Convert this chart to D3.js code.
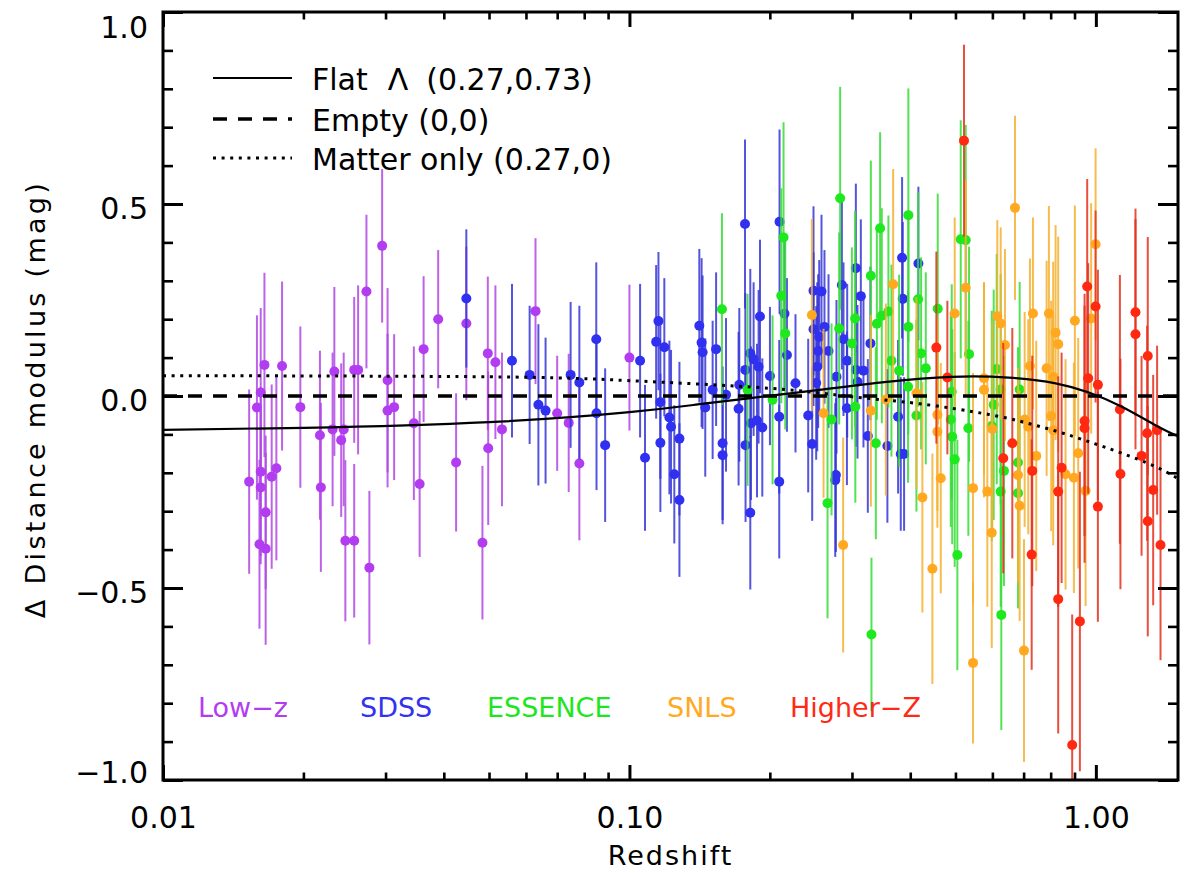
<!DOCTYPE html>
<html>
<head>
<meta charset="utf-8">
<script src="https://cdn.jsdelivr.net/npm/d3@7"></script>
<style>
  html, body { margin: 0; padding: 0; background: #fff; }
  svg { display: block; }
  text { font-family: "DejaVu Sans", "Liberation Sans", sans-serif; fill: #000; }
</style>
</head>
<body>
<svg id="chart" width="1186" height="873"></svg>
<script>
// ---------------- DATA ----------------
const xTickValues = [0.01, 0.1, 1];
const xTickLabels = ["0.01", "0.10", "1.00"];
const xMinorTicks = [0.02,0.03,0.04,0.05,0.06,0.07,0.08,0.09,0.2,0.3,0.4,0.5,0.6,0.7,0.8,0.9];
const yTickValues = [-1, -0.5, 0, 0.5, 1];
const yTickLabels = ["\u22121.0", "\u22120.5", "0.0", "0.5", "1.0"];
const yMinorTicks = [-0.9,-0.8,-0.7,-0.6,-0.4,-0.3,-0.2,-0.1,0.1,0.2,0.3,0.4,0.6,0.7,0.8,0.9];

const xTitle = "Redshift";
const yTitle = "\u0394 Distance modulus (mag)";
const groupNames = ["Low\u2212z", "SDSS", "ESSENCE", "SNLS", "Higher\u2212Z"];
const legendLabels = [["Flat", "\u039b", "(0.27,0.73)"], ["Empty (0,0)"], ["Matter only (0.27,0)"]];

// [redshift, delta distance modulus, error]
const lowZ = [
[0.0153,-0.223,0.24],[0.0159,-0.030,0.24],[0.0162,0.009,0.22],[0.0165,0.081,0.24],[0.0162,-0.197,0.22],
[0.0162,-0.238,0.20],[0.0166,-0.303,0.20],[0.0161,-0.386,0.22],[0.0166,-0.398,0.25],[0.0171,-0.210,0.24],
[0.0175,-0.188,0.24],[0.0180,0.078,0.22],[0.0197,-0.029,0.21],[0.0217,-0.102,0.22],[0.0218,-0.238,0.22],
[0.0231,-0.087,0.20],[0.0233,0.064,0.22],[0.0241,-0.115,0.20],[0.0244,-0.087,0.20],[0.0246,-0.377,0.21],
[0.0257,-0.377,0.20],[0.0257,0.068,0.19],[0.0262,0.068,0.22],[0.0273,0.272,0.20],[0.0277,-0.447,0.20],
[0.0295,0.391,0.20],[0.0303,0.041,0.24],[0.0303,-0.038,0.20],[0.0313,-0.029,0.19],[0.0345,-0.071,0.20],
[0.0355,-0.229,0.19],[0.0362,0.122,0.19],[0.0389,0.200,0.18],[0.0425,-0.173,0.18],[0.0447,0.189,0.20],
[0.0484,-0.382,0.20],[0.0497,0.111,0.20],[0.0516,0.088,0.20],[0.0498,-0.136,0.20],[0.0533,-0.087,0.20],
[0.0629,0.221,0.19],[0.0700,-0.045,0.15],[0.0741,-0.070,0.18],[0.0781,-0.176,0.20],[0.1000,0.100,0.19]
];
const sdss = [
[0.0447,0.254,0.18],[0.0560,0.092,0.20],[0.0611,0.055,0.18],[0.0638,-0.023,0.21],[0.0661,-0.038,0.19],
[0.0748,0.055,0.19],[0.0781,0.035,0.20],[0.0849,0.148,0.20],[0.0850,-0.045,0.20],[0.0887,-0.128,0.20],
[0.1054,0.092,0.20],[0.1080,-0.161,0.19],[0.1154,0.195,0.18],[0.1141,0.141,0.20],[0.1188,0.127,0.18],
[0.1165,-0.016,0.20],[0.1218,-0.056,0.20],[0.1228,-0.080,0.20],[0.1165,-0.122,0.18],[0.1248,-0.204,0.18],
[0.1280,-0.111,0.20],[0.1280,-0.271,0.20],[0.1412,0.183,0.20],[0.1428,0.139,0.22],[0.1435,0.114,0.20],
[0.1534,0.122,0.20],[0.1508,0.016,0.18],[0.1454,-0.030,0.18],[0.1584,-0.123,0.20],[0.1584,-0.154,0.18],
[0.1611,0.003,0.20],[0.1714,-0.033,0.20],[0.1769,0.448,0.22],[0.1772,0.068,0.20],[0.1774,-0.128,0.20],
[0.2098,0.454,0.24],[0.1905,0.207,0.20],[0.1816,0.111,0.22],[0.1846,0.096,0.20],[0.1892,0.076,0.20],
[0.2001,0.052,0.18],[0.1720,0.029,0.20],[0.1822,-0.071,0.20],[0.1877,-0.064,0.20],[0.1927,-0.082,0.18],
[0.2095,-0.054,0.20],[0.2095,-0.223,0.20],[0.1816,-0.304,0.20],[0.2150,0.214,0.20],[0.2176,0.107,0.20],
[0.2270,0.033,0.18],[0.2417,-0.051,0.20],[0.2465,-0.125,0.20],[0.2481,0.274,0.22],[0.2481,0.174,0.20],
[0.2581,0.272,0.20],[0.2619,0.180,0.20],[0.2552,0.154,0.20],[0.2539,0.117,0.20],[0.2527,0.076,0.22],
[0.2514,0.034,0.20],[0.2672,0.117,0.20],[0.2779,0.050,0.20],[0.2771,-0.206,0.20],[0.2762,-0.219,0.20],
[0.2854,0.289,0.22],[0.2877,0.148,0.20],[0.2926,-0.032,0.20],[0.3058,0.333,0.22],[0.3083,0.037,0.20],
[0.3134,0.260,0.20],[0.3175,0.066,0.20],[0.3244,-0.104,0.20],[0.3286,0.137,0.20],[0.3573,-0.130,0.20],
[0.3767,-0.054,0.20],[0.3842,0.360,0.21],[0.3855,0.253,0.20],[0.3817,-0.151,0.20],[0.3880,-0.151,0.20],
[0.4164,0.345,0.20],[0.2930,0.092,0.20],[0.3058,0.068,0.20]
];
const essence = [
[0.1579,0.226,0.25],[0.1792,0.016,0.25],[0.2140,0.413,0.30],[0.2116,0.261,0.28],[0.2158,0.163,0.25],
[0.2027,-0.010,0.22],[0.2659,-0.279,0.30],[0.2712,-0.061,0.25],[0.2830,0.515,0.29],[0.2816,0.176,0.25],
[0.2999,0.137,0.25],[0.3047,0.202,0.28],[0.3050,-0.028,0.25],[0.3293,0.313,0.30],[0.3392,0.188,0.25],
[0.3476,0.209,0.28],[0.3591,0.220,0.25],[0.3447,0.437,0.25],[0.3375,-0.123,0.25],[0.3645,0.092,0.25],
[0.3786,0.066,0.25],[0.3957,0.024,0.25],[0.3963,0.471,0.33],[0.3963,0.180,0.28],[0.4158,0.252,0.28],
[0.4220,0.111,0.25],[0.4319,0.072,0.25],[0.4124,-0.051,0.25],[0.4581,0.227,0.30],[0.4909,0.011,0.28],
[0.4885,-0.061,0.28],[0.4921,-0.106,0.28],[0.4982,-0.165,0.28],[0.5132,0.408,0.31],[0.5260,0.406,0.30],
[0.5347,0.109,0.28],[0.5329,-0.084,0.28],[0.6130,0.070,0.30],[0.6251,0.017,0.30],[0.5981,-0.078,0.30],
[0.6353,-0.195,0.30],[0.6251,-0.249,0.30],[0.6864,0.017,0.28],[0.6808,-0.173,0.30],[0.6808,-0.253,0.30],
[0.3303,-0.621,0.20],[0.6270,-0.570,0.30],[0.5047,-0.414,0.30],[0.6039,-0.023,0.30]
];
const snls = [
[0.2461,0.211,0.25],[0.2607,-0.045,0.22],[0.3676,0.291,0.30],[0.3293,-0.038,0.25],[0.3546,-0.009,0.25],
[0.4124,0.007,0.25],[0.4247,-0.264,0.30],[0.4573,-0.049,0.25],[0.4573,-0.093,0.25],[0.4650,-0.214,0.30],
[0.4982,0.215,0.25],[0.5260,0.282,0.28],[0.5453,-0.240,0.30],[0.5757,0.046,0.25],[0.5757,0.016,0.28],
[0.5852,-0.249,0.30],[0.6148,0.208,0.25],[0.6251,0.189,0.25],[0.6384,0.133,0.25],[0.5981,-0.356,0.30],
[0.6708,0.490,0.24],[0.9986,0.395,0.25],[0.7330,0.215,0.25],[0.7932,0.215,0.28],[0.9016,0.196,0.30],
[0.8197,0.165,0.28],[0.8303,0.135,0.28],[0.7223,0.078,0.28],[0.7842,0.072,0.28],[0.8101,0.050,0.30],
[0.9770,0.202,0.30],[0.8022,-0.052,0.30],[0.7162,-0.080,0.28],[0.8101,-0.089,0.30],[0.7450,-0.156,0.30],
[0.9165,-0.149,0.30],[0.8610,-0.204,0.30],[0.8972,-0.213,0.30],[0.9505,-0.247,0.30],[0.6864,-0.286,0.30],
[0.6808,-0.206,0.28],[0.7036,-0.061,0.28],[0.2872,-0.388,0.28],[0.4462,-0.450,0.30],[0.7013,-0.663,0.29],
[0.5453,-0.695,0.21],[0.5998,-0.086,0.28]
];
const higherZ = [
[0.5215,0.665,0.25],[0.9581,0.285,0.28],[0.9986,0.233,0.25],[1.216,0.218,0.27],[1.216,0.161,0.30],
[1.292,0.104,0.31],[0.9627,0.046,0.30],[1.010,0.029,0.30],[1.126,-0.035,0.35],[0.9458,-0.065,0.30],
[0.9458,-0.084,0.35],[1.288,-0.097,0.28],[1.353,-0.089,0.22],[0.6620,-0.123,0.30],[0.6331,-0.162,0.30],
[1.253,-0.156,0.26],[0.8444,-0.187,0.30],[0.7305,-0.195,0.30],[1.129,-0.203,0.30],[0.8303,-0.249,0.30],
[1.327,-0.245,0.30],[1.010,-0.288,0.30],[1.292,-0.326,0.30],[0.4550,0.126,0.25],[0.4804,0.048,0.20],
[1.376,-0.388,0.30],[0.7284,-0.413,0.30],[0.8303,-0.529,0.35],[0.9241,-0.587,0.39],[0.8897,-0.909,0.34]
];

// model curves: [redshift, delta mu]
const flatLambda = [[0.01,-0.088],[0.02,-0.083],[0.05,-0.068],[0.1,-0.042],[0.14,-0.022],[0.18,-0.006],
  [0.255,0.016],[0.356,0.037],[0.49,0.050],[0.65,0.048],[0.82,0.033],[0.966,0.009],[1.137,-0.028],[1.342,-0.076],[1.5,-0.105]];
const emptyModel = [[0.01,0],[1.5,0]];
const matterOnly = [[0.01,0.053],[0.05,0.050],[0.1,0.040],[0.2,0.020],[0.3,-0.002],[0.418,-0.020],[0.589,-0.048],
  [0.694,-0.067],[0.82,-0.091],[0.966,-0.119],[1.137,-0.149],[1.342,-0.184],[1.5,-0.215]];

// ---------------- STYLE / LAYOUT ----------------
const groups = [
  {name: groupNames[0], data: lowZ,    dot: "#b23cf0", bar: "#b048e4", label: "#b43cf0", lx: 198},
  {name: groupNames[1], data: sdss,    dot: "#3030f0", bar: "#3636d6", label: "#3232f0", lx: 360},
  {name: groupNames[2], data: essence, dot: "#1ee81e", bar: "#36dc36", label: "#1ee61e", lx: 487},
  {name: groupNames[3], data: snls,    dot: "#ffa820", bar: "#f4b030", label: "#ffaa22", lx: 667},
  {name: groupNames[4], data: higherZ, dot: "#ff2810", bar: "#e4301c", label: "#ff2a14", lx: 790}
];

const svg = d3.select("#chart");
const L = 163, R = 1178, T = 12, B = 780;
const x = d3.scaleLog().domain([0.01, 1.5]).range([L, R]);
const y = d3.scaleLinear().domain([-1, 1]).range([B, T]);

svg.append("defs").append("clipPath").attr("id", "plotClip")
  .append("rect").attr("x", L).attr("y", T).attr("width", R - L).attr("height", B - T);

// ---------------- DATA MARKS ----------------
const plot = svg.append("g").attr("clip-path", "url(#plotClip)");
groups.forEach(g => {
  const gg = plot.append("g");
  gg.selectAll("line.err").data(g.data).join("line")
    .attr("class", "err")
    .attr("x1", d => x(d[0])).attr("x2", d => x(d[0]))
    .attr("y1", d => y(d[1] - d[2])).attr("y2", d => y(d[1] + d[2]))
    .attr("stroke", g.bar).attr("stroke-width", 2).attr("stroke-opacity", 0.85);
  gg.selectAll("circle").data(g.data).join("circle")
    .attr("cx", d => x(d[0])).attr("cy", d => y(d[1])).attr("r", 5)
    .attr("fill", g.dot);
});

// ---------------- MODEL CURVES ----------------
const line = d3.line().x(d => x(d[0])).y(d => y(d[1])).curve(d3.curveNatural);
const curves = svg.append("g").attr("clip-path", "url(#plotClip)").attr("fill", "none").attr("stroke", "#000");
curves.append("path").datum(flatLambda).attr("d", line).attr("stroke-width", 2.2);
curves.append("path").datum(emptyModel).attr("d", d3.line().x(d => x(d[0])).y(d => y(d[1])))
  .attr("stroke-width", 3.6).attr("stroke-dasharray", "14,11");
curves.append("path").datum(matterOnly).attr("d", line)
  .attr("stroke-width", 3).attr("stroke-dasharray", "3,5.6");

// ---------------- AXES ----------------
function styleAxis(sel, sw) {
  sel.select(".domain").remove();
  sel.selectAll(".tick line").attr("stroke", "#000").attr("stroke-width", sw);
  sel.selectAll(".tick text").attr("font-size", 30).attr("font-family", "DejaVu Sans, sans-serif").attr("fill", "#000");
}
// bottom
svg.append("g").attr("transform", `translate(0,${B})`)
  .call(d3.axisBottom(x).tickValues(xTickValues).tickFormat((d, i) => xTickLabels[i]).tickSize(-15).tickSizeOuter(0).tickPadding(27))
  .call(s => styleAxis(s, 3));
svg.append("g").attr("transform", `translate(0,${B})`)
  .call(d3.axisBottom(x).tickValues(xMinorTicks).tickFormat("").tickSize(-7.5).tickSizeOuter(0))
  .call(s => styleAxis(s, 2.6));
// top
svg.append("g").attr("transform", `translate(0,${T})`)
  .call(d3.axisTop(x).tickValues(xTickValues).tickFormat("").tickSize(-15).tickSizeOuter(0))
  .call(s => styleAxis(s, 3));
svg.append("g").attr("transform", `translate(0,${T})`)
  .call(d3.axisTop(x).tickValues(xMinorTicks).tickFormat("").tickSize(-7.5).tickSizeOuter(0))
  .call(s => styleAxis(s, 2.6));
// left
const yl = svg.append("g").attr("transform", `translate(${L},0)`)
  .call(d3.axisLeft(y).tickValues(yTickValues).tickFormat((d, i) => yTickLabels[i]).tickSize(-20).tickSizeOuter(0).tickPadding(15))
  .call(s => styleAxis(s, 3));
yl.selectAll(".tick text").attr("dy", d => d === 1 ? 25 : (d === -1 ? 2 : 14));
svg.append("g").attr("transform", `translate(${L},0)`)
  .call(d3.axisLeft(y).tickValues(yMinorTicks).tickFormat("").tickSize(-10).tickSizeOuter(0))
  .call(s => styleAxis(s, 2.6));
// right
svg.append("g").attr("transform", `translate(${R},0)`)
  .call(d3.axisRight(y).tickValues(yTickValues).tickFormat("").tickSize(-20).tickSizeOuter(0))
  .call(s => styleAxis(s, 3));
svg.append("g").attr("transform", `translate(${R},0)`)
  .call(d3.axisRight(y).tickValues(yMinorTicks).tickFormat("").tickSize(-10).tickSizeOuter(0))
  .call(s => styleAxis(s, 2.6));

// frame
svg.append("rect").attr("x", L).attr("y", T).attr("width", R - L).attr("height", B - T)
  .attr("fill", "none").attr("stroke", "#000").attr("stroke-width", 3);

// axis titles
svg.append("text").attr("x", (L + R) / 2).attr("y", 865).attr("text-anchor", "middle")
  .attr("font-size", 27).attr("letter-spacing", "2px").text(xTitle);
svg.append("text").attr("transform", "translate(45,399) rotate(-90)").attr("text-anchor", "middle")
  .attr("font-size", 27).attr("letter-spacing", "3.3px").text(yTitle);

// ---------------- LEGEND ----------------
const legendRows = [
  {y: 78, dash: null, w: 2.2},
  {y: 119, dash: "14,11", w: 3.6},
  {y: 158, dash: "3,5.6", w: 3}
];
const leg = svg.append("g");
legendRows.forEach((r, i) => {
  leg.append("line").attr("x1", 213).attr("x2", 292).attr("y1", r.y).attr("y2", r.y)
    .attr("stroke", "#000").attr("stroke-width", r.w).attr("stroke-dasharray", r.dash);
  const t = leg.append("text").attr("x", 312).attr("y", r.y + 12).attr("font-size", 30);
  const parts = legendLabels[i];
  if (parts.length === 1) {
    t.text(parts[0]);
  } else {
    t.append("tspan").text(parts[0]);
    t.append("tspan").attr("dx", 20).text(parts[1]);
    t.append("tspan").attr("dx", 18).text(parts[2]);
  }
});

// group labels
svg.append("g").selectAll("text").data(groups).join("text")
  .attr("x", d => d.lx).attr("y", 717).attr("font-size", 27)
  .attr("fill", d => d.label).style("fill", d => d.label).text(d => d.name);
</script>
</body>
</html>
